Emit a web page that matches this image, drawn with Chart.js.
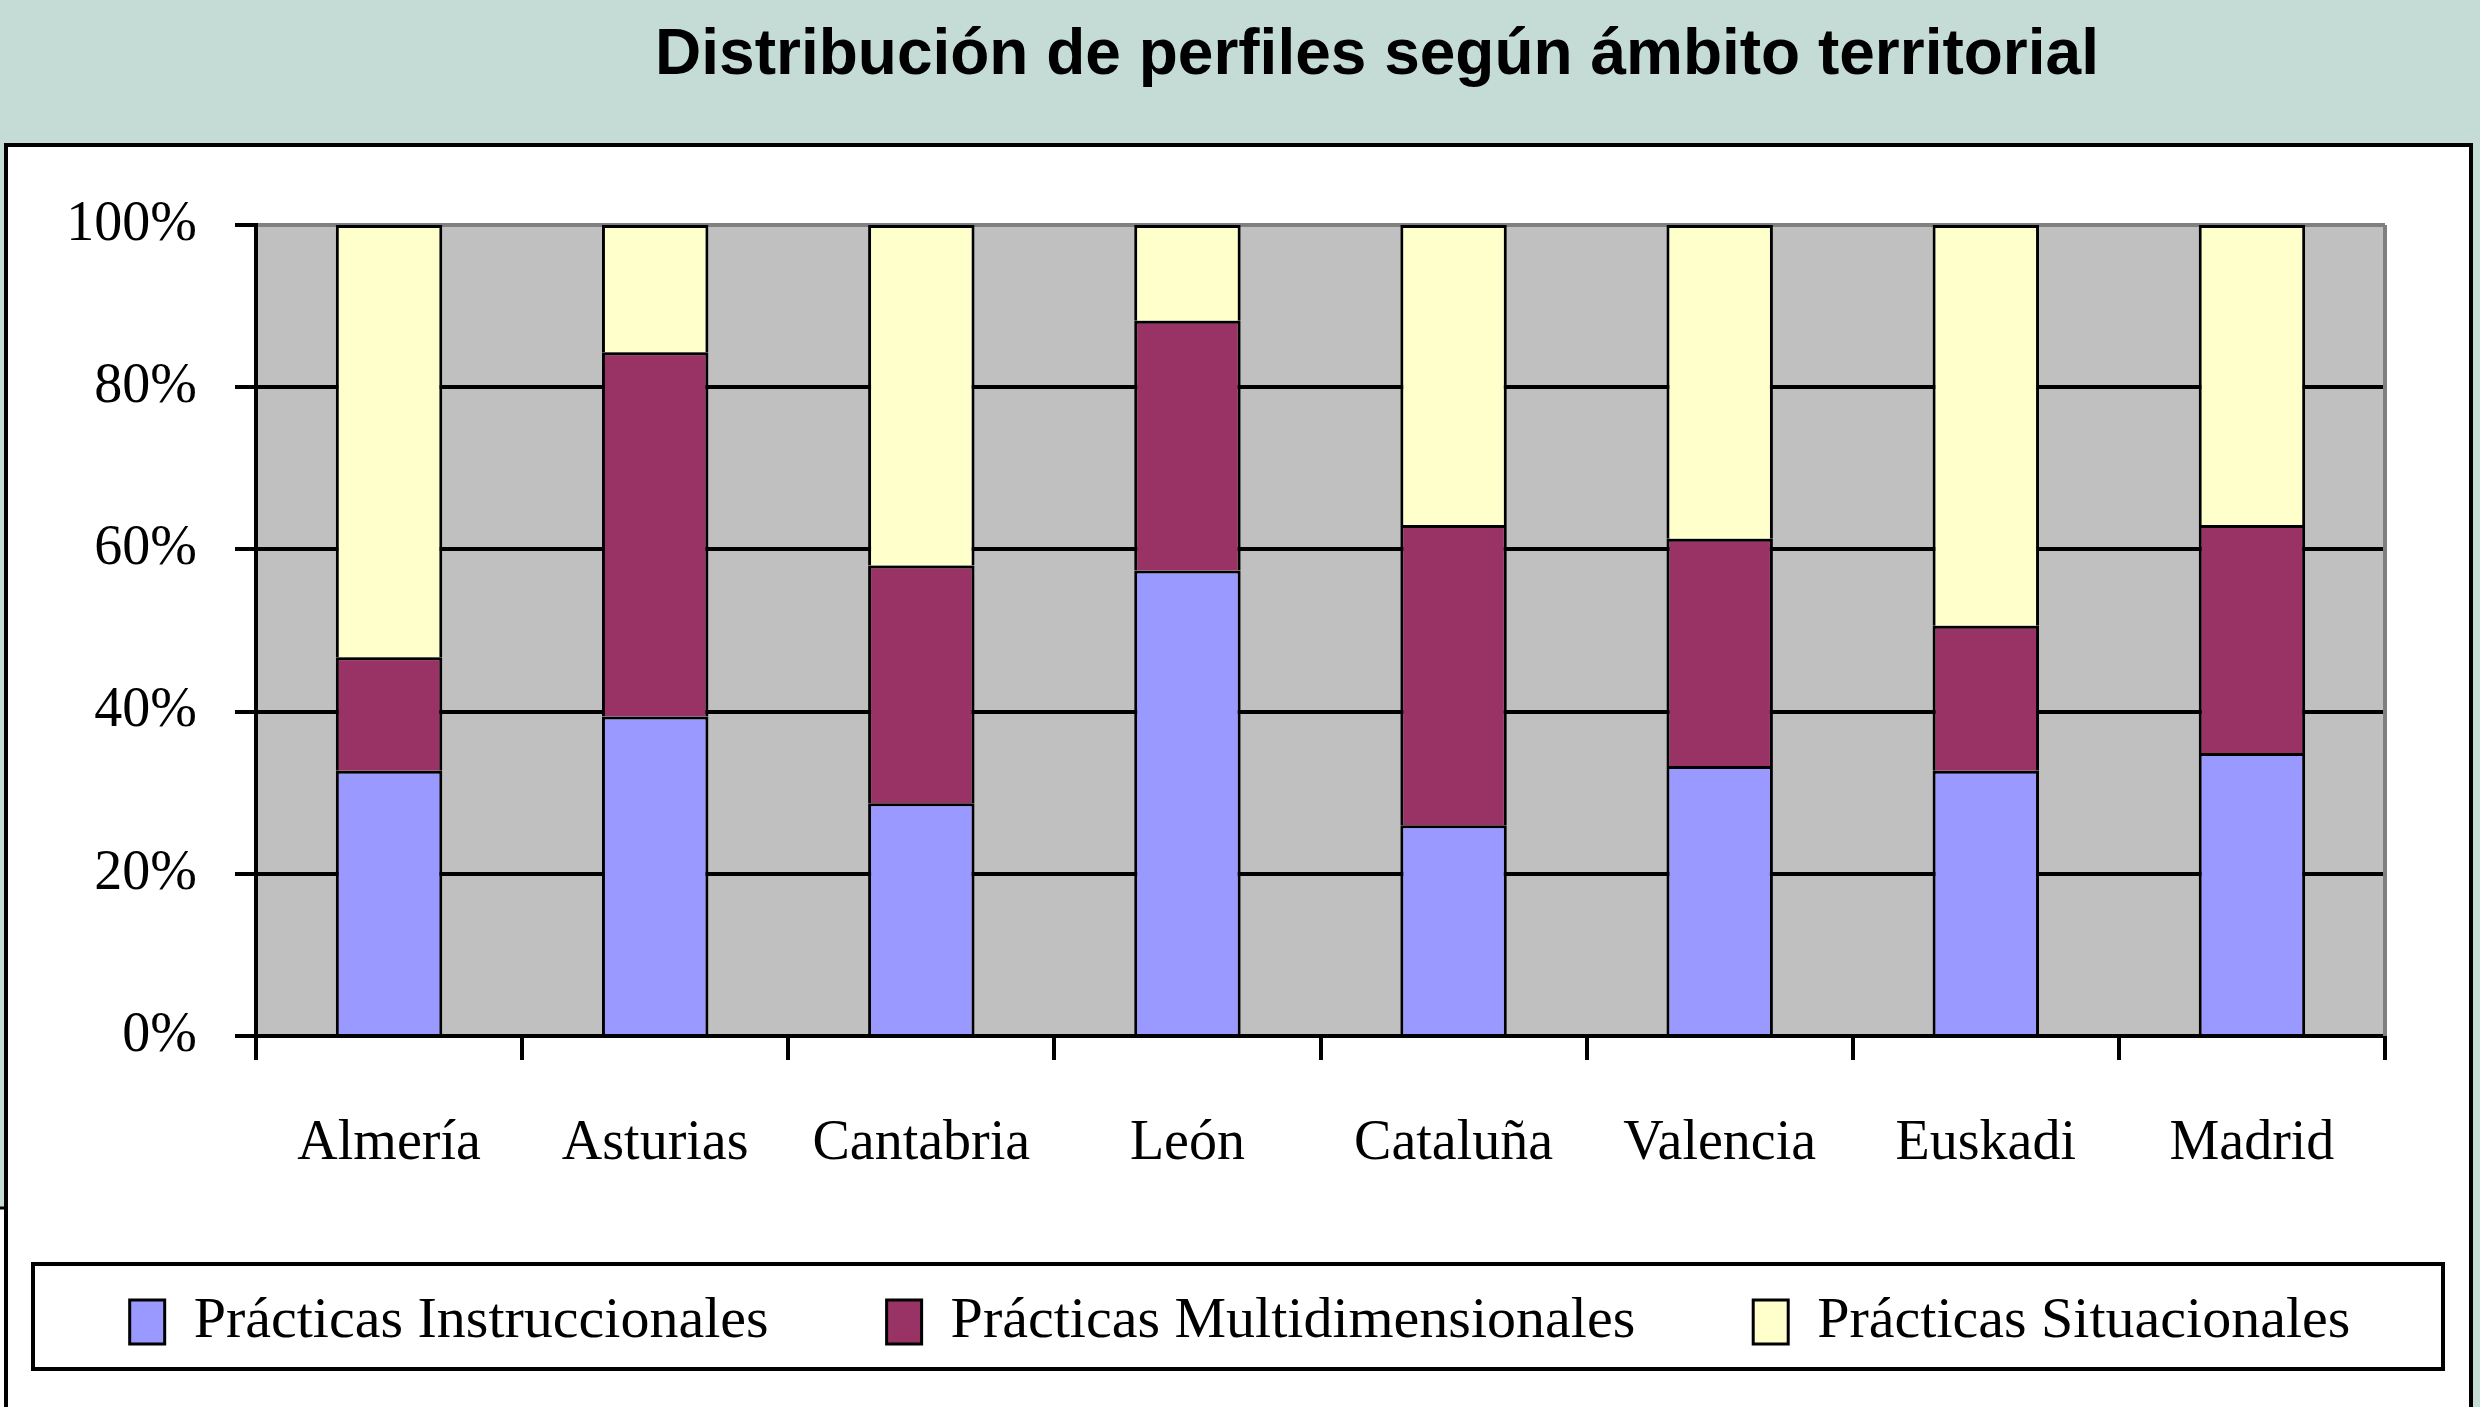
<!DOCTYPE html>
<html>
<head>
<meta charset="utf-8">
<title>Distribución de perfiles según ámbito territorial</title>
<script src="https://cdn.jsdelivr.net/npm/chart.js@4.4.1/dist/chart.umd.min.js"></script>
<style>
  html, body { margin: 0; padding: 0; background: #C5DCD6; }
  #chart { display: block; }
</style>
</head>
<body>
<canvas id="chart" width="2480" height="1407"></canvas>
<script>
// data (percent of each territory)
const titulo = 'Distribución de perfiles según ámbito territorial';
const categorias = ['Almería', 'Asturias', 'Cantabria', 'León', 'Cataluña', 'Valencia', 'Euskadi', 'Madrid'];
const instruccionales = [32.7, 39.4, 28.7, 57.4, 26.0, 33.3, 32.7, 34.9];
const multidimensionales = [14.0, 44.9, 29.3, 30.8, 37.0, 28.0, 17.9, 28.1];
const situacionales = [53.3, 15.7, 42.0, 11.8, 37.0, 38.7, 49.4, 37.0];
const seriesNames = ['Prácticas Instruccionales', 'Prácticas Multidimensionales', 'Prácticas Situacionales'];
const yTicks = [0, 20, 40, 60, 80, 100];

const SERIF = '"Liberation Serif", "Times New Roman", serif';

// background, white panel, plot area, title
const framePlugin = {
  id: 'frame',
  beforeDraw(chart) {
    const c = chart.ctx, a = chart.chartArea;
    c.save();
    c.fillStyle = '#C5DCD6';
    c.fillRect(0, 0, chart.width, chart.height);
    c.fillStyle = '#fff';
    c.fillRect(6, 145, chart.width - 15, chart.height - 145);
    c.fillRect(0, 1208, 6, chart.height - 1208);
    c.strokeStyle = '#000';
    c.lineWidth = 4;
    c.strokeRect(6, 145, chart.width - 15, chart.height + 10);
    c.lineWidth = 3;
    c.beginPath(); c.moveTo(0, 1208); c.lineTo(6, 1208); c.stroke();
    // plot background
    c.fillStyle = '#C0C0C0';
    c.fillRect(a.left, a.top, a.right - a.left, a.bottom - a.top);
    // title
    c.fillStyle = '#000';
    c.font = 'bold 64px "Liberation Sans", Arial, sans-serif';
    c.textAlign = 'center';
    c.textBaseline = 'alphabetic';
    c.fillText(titulo, 1377, 74);
    c.restore();
  },
  beforeDatasetsDraw(chart) {
    const c = chart.ctx, a = chart.chartArea;
    c.save();
    c.strokeStyle = '#808080';
    c.lineWidth = 4;
    c.beginPath();
    c.moveTo(a.right, a.top);
    c.lineTo(a.right, a.bottom);
    c.stroke();
    c.restore();
  },
  afterDraw(chart) {
    const c = chart.ctx, lg = chart.legend;
    c.save();
    c.strokeStyle = '#000';
    c.lineWidth = 4;
    c.strokeRect(33, lg.top + 89, chart.width - 70, 105);
    c.restore();
  }
};

const ctx = document.getElementById('chart').getContext('2d');

new Chart(ctx, {
  type: 'bar',
  data: {
    labels: categorias,
    datasets: [
      { label: seriesNames[0], data: instruccionales, backgroundColor: '#9999FF' },
      { label: seriesNames[1], data: multidimensionales, backgroundColor: '#993366' },
      { label: seriesNames[2], data: situacionales, backgroundColor: '#FFFFCC' }
    ]
  },
  options: {
    responsive: false,
    animation: false,
    devicePixelRatio: 1,
    layout: { padding: { top: 225, right: 0, bottom: 46, left: 0 } },
    datasets: {
      bar: {
        borderColor: '#000',
        borderWidth: 3,
        barPercentage: 0.4,
        categoryPercentage: 1
      }
    },
    scales: {
      x: {
        stacked: true,
        afterFit(scale) { scale.height = 139; },
        grid: {
          offset: true,
          drawOnChartArea: false,
          drawTicks: true,
          tickLength: 24,
          tickColor: '#000',
          lineWidth: 4
        },
        border: { display: true, color: '#000', width: 4 },
        ticks: {
          color: '#000',
          font: { family: SERIF, size: 56 },
          padding: 51,
          maxRotation: 0,
          autoSkip: false
        }
      },
      y: {
        stacked: true,
        min: 0,
        max: 100,
        afterFit(scale) { scale.width = 256; },
        afterBuildTicks(scale) { scale.ticks = yTicks.map(v => ({ value: v })); },
        grid: {
          color: (c) => (c.tick && c.tick.value === 100 ? '#808080' : '#000'),
          tickColor: '#000',
          lineWidth: 4,
          tickLength: 21
        },
        border: { display: true, color: '#000', width: 4 },
        ticks: {
          color: '#000',
          font: { family: SERIF, size: 56 },
          padding: 38,
          callback: (v) => v + '%'
        }
      },
      // empty right margin so the plot ends where the reference does
      yRight: {
        position: 'right',
        display: true,
        afterFit(scale) { scale.width = 95; },
        grid: { display: false, drawTicks: false },
        border: { display: false },
        ticks: { display: false }
      }
    },
    plugins: {
      title: { display: false },
      tooltip: { enabled: false },
      legend: {
        position: 'bottom',
        labels: {
          color: '#000',
          font: { family: SERIF, size: 58 },
          boxWidth: 35,
          boxHeight: 44,
          padding: 118
        }
      }
    }
  },
  plugins: [framePlugin]
});
</script>
</body>
</html>
